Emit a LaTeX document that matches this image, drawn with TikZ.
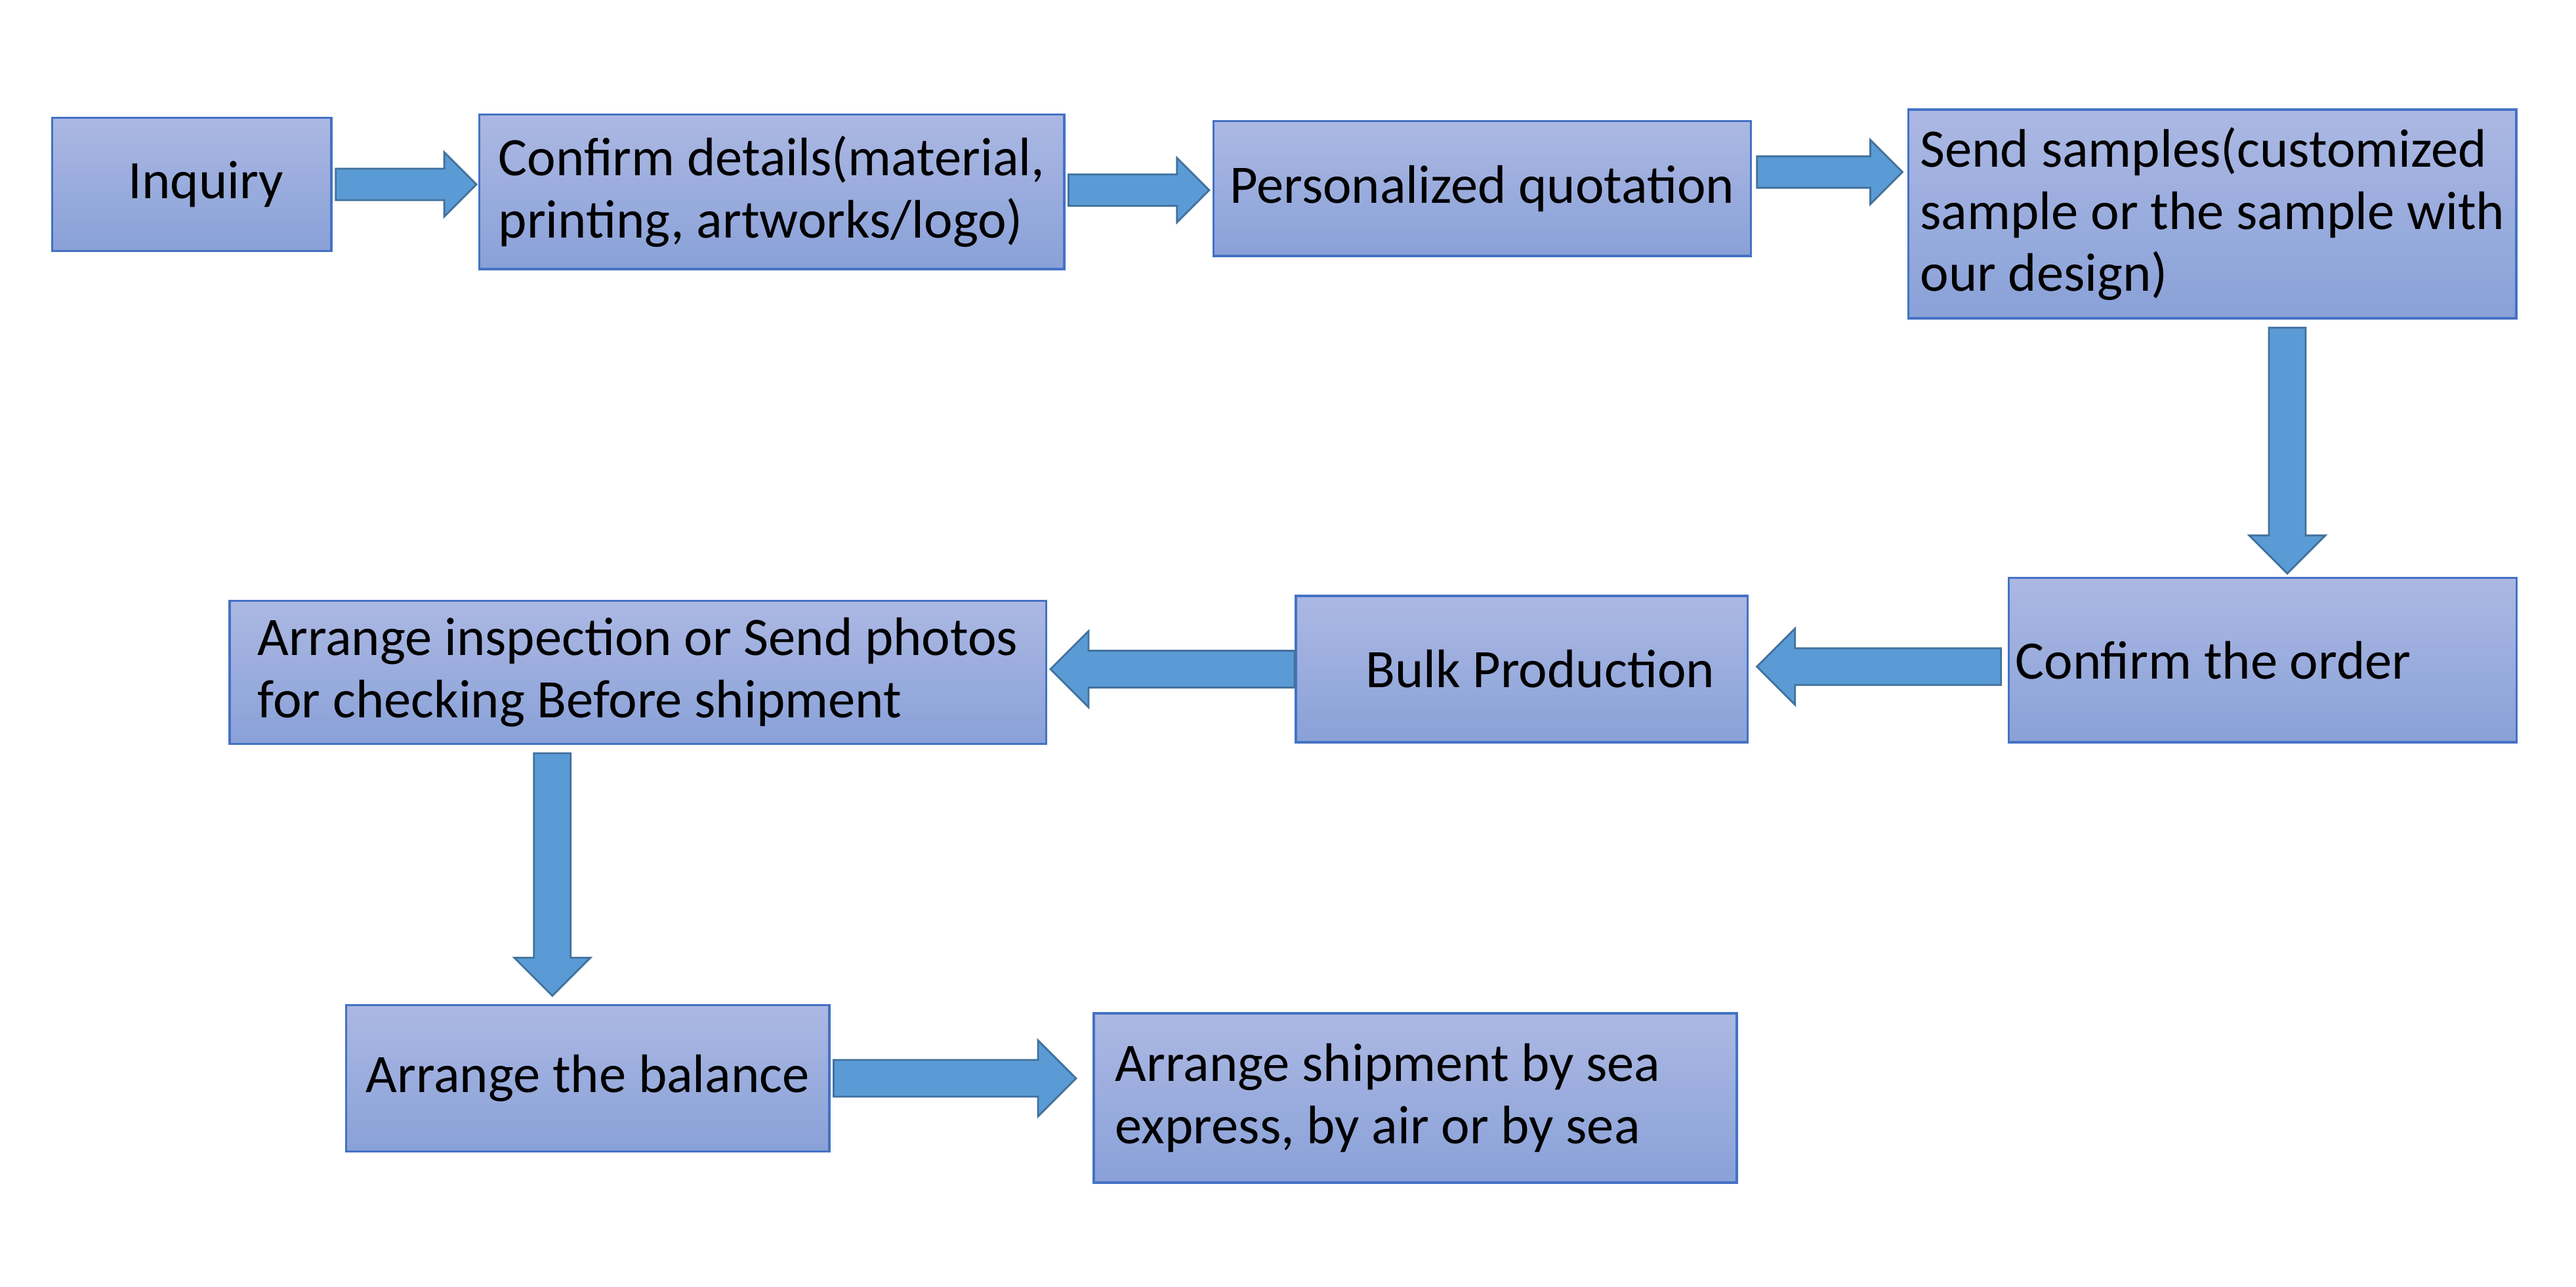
\documentclass[tikz,border=0pt]{standalone}
\usepackage{fontspec}
\setmainfont{Carlito}
\usetikzlibrary{calc,positioning}

\definecolor{boxtop}{RGB}{172,184,227}
\definecolor{boxbot}{RGB}{137,161,216}
\definecolor{boxline}{RGB}{68,114,196}
\definecolor{arrowfill}{RGB}{91,155,213}
\definecolor{arrowline}{RGB}{65,113,156}

% #1 shaft half width, #2 head half width (= head length), #3 from, #4 to
\newcommand{\flowarrow}[4]{%
  \coordinate (head) at ($(#4)!#2!(#3)$);
  \draw[blockarrow] ($(#3)!#1!90:(#4)$) -- ($(head)!#1!90:(#4)$)
    -- ($(head)!#2!90:(#4)$) -- (#4) -- ($(head)!#2!-90:(#4)$)
    -- ($(head)!#1!-90:(#4)$) -- ($(#3)!#1!-90:(#4)$) -- cycle;
}

\begin{document}
\begin{tikzpicture}[x=0.02504cm,y=-0.02504cm,
    box/.style={rectangle,draw=boxline,line width=1pt,top color=boxtop,bottom color=boxbot,
      anchor=north west,inner ysep=0.1cm,align=left,
      font=\fontsize{23.5}{27}\selectfont},
    blockarrow/.style={draw=arrowline,fill=arrowfill,line width=0.8pt,line join=miter}]

  \useasboundingbox (0,0) rectangle (1568,783);

  % top row
  \node[box,minimum width=4.257cm,minimum height=2.028cm,align=flush right,
    text width=2.80cm,inner xsep=0.726cm] (inq) at (31,71) {Inquiry};
  \node[box,minimum width=8.914cm,minimum height=2.354cm] (conf) at (291,69)
    {Confirm details(material,\\printing, artworks/logo)};
  \node[box,minimum width=8.188cm,minimum height=2.053cm] (quote) at (738,73)
    {Personalized quotation};
  \node[box,minimum width=9.265cm,minimum height=3.180cm,inner xsep=0.1cm] (send) at (1161,66)
    {Send samples(customized\\sample or the sample with\\our design)};

  % middle row
  \node[box,minimum width=7.737cm,minimum height=2.504cm,align=flush left,
    text width=7.54cm,inner xsep=0.10cm] (order) at (1222,351) {Confirm the order};
  \node[box,minimum width=6.886cm,minimum height=2.229cm,align=flush right,
    text width=5.88cm,inner xsep=0.50cm] (bulk) at (788,362) {Bulk Production};
  \node[box,minimum width=12.445cm,minimum height=2.178cm] (check) at (139,365)
    {Arrange inspection or Send photos\\for checking Before shipment};

  % bottom row
  \node[box,minimum width=7.362cm,minimum height=2.229cm] (balance) at (210,611)
    {Arrange the balance};
  \node[box,minimum width=9.791cm,minimum height=2.579cm,align=flush left,
    text width=9.14cm,inner xsep=0.33cm] (ship) at (665,616)
    {Arrange shipment by sea\\express, by air or by sea};

  % arrow ends
  \coordinate (a1s) at ($(inq.east)+(2,0)$);
  \coordinate (a1e) at ($(inq.east -| conf.west)+(-1,0)$);
  \coordinate (a2s) at ($(conf.east)+(2,-1)$);
  \coordinate (a2e) at ($(conf.east -| quote.west)+(-2,-1)$);
  \coordinate (a3s) at ($(quote.east)+(3,-10)$);
  \coordinate (a3e) at ($(quote.east -| send.west)+(-3,-10)$);
  \coordinate (a4e) at ($(order.north)+(15,-2)$);
  \coordinate (a4s) at ($(a4e |- send.south)+(0,5)$);
  \coordinate (a5s) at ($(order.west)+(-4,4)$);
  \coordinate (a5e) at ($(order.west -| bulk.east)+(5,4)$);
  \coordinate (a6s) at (bulk.west);
  \coordinate (a6e) at ($(bulk.west -| check.east)+(2,0)$);
  \coordinate (a7s) at ($(check.south)+(-52,5)$);
  \coordinate (a7e) at ($(check.south |- balance.north)+(-52,-5)$);
  \coordinate (a8s) at ($(balance.east)+(2,0)$);
  \coordinate (a8e) at ($(balance.east -| ship.west)+(-10,0)$);

  \foreach \s/\e in {a1s/a1e,a2s/a2e,a3s/a3e}
    \flowarrow{0.24cm}{0.49cm}{\s}{\e};
  \foreach \s/\e in {a4s/a4e,a5s/a5e,a6s/a6e,a7s/a7e,a8s/a8e}
    \flowarrow{0.28cm}{0.58cm}{\s}{\e};
\end{tikzpicture}
\end{document}
